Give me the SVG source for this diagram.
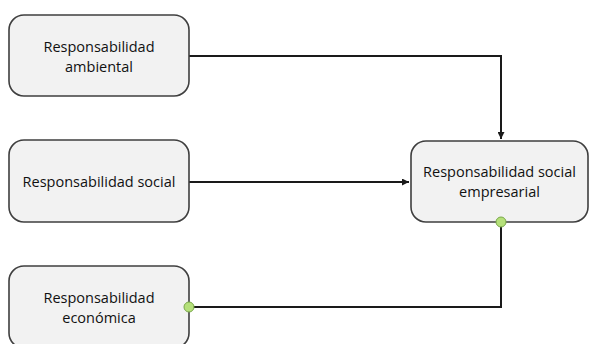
<svg xmlns="http://www.w3.org/2000/svg" width="589" height="344" viewBox="0 0 589 344">
<style>
.box{fill:#f2f2f2;stroke:#3f3f3f;stroke-width:1.6}
.lbl{font-family:"Open Sans","Liberation Sans",sans-serif;font-size:14.5px;fill:#111111;text-anchor:middle}
.con{fill:none;stroke:#1a1a1a;stroke-width:2}
.dot{fill:#b5e07a;stroke:#7aa84a;stroke-width:1}
</style>
<defs>
<marker id="arr" viewBox="0 0 10 10" refX="10" refY="5" markerWidth="3.5" markerHeight="3.5" orient="auto" markerUnits="strokeWidth">
<path d="M0,0 L10,5 L0,10 z" fill="#1a1a1a"/>
</marker>
</defs>
<g id="connectors">
<path class="con" d="M189,56 H501 V139" marker-end="url(#arr)"/>
<path class="con" d="M189,182 H409" marker-end="url(#arr)"/>
<path class="con" d="M189,307 H501 V222"/>
</g>
<g id="n1">
<rect class="box" x="9" y="15" width="180" height="81" rx="15"/>
<text class="lbl" x="99" y="52">Responsabilidad</text>
<text class="lbl" x="99" y="72">ambiental</text>
</g>
<g id="n2">
<rect class="box" x="9" y="140" width="180" height="82" rx="15"/>
<text class="lbl" x="99" y="187">Responsabilidad social</text>
</g>
<g id="n3">
<rect class="box" x="9" y="266" width="180" height="82" rx="15"/>
<text class="lbl" x="99" y="303">Responsabilidad</text>
<text class="lbl" x="99" y="323">económica</text>
<circle class="dot" cx="189" cy="307" r="5"/>
</g>
<g id="n4">
<rect class="box" x="411" y="141" width="177" height="81" rx="15"/>
<text class="lbl" x="499.5" y="177">Responsabilidad social</text>
<text class="lbl" x="499.5" y="197">empresarial</text>
<circle class="dot" cx="501" cy="222" r="5"/>
</g>
</svg>
